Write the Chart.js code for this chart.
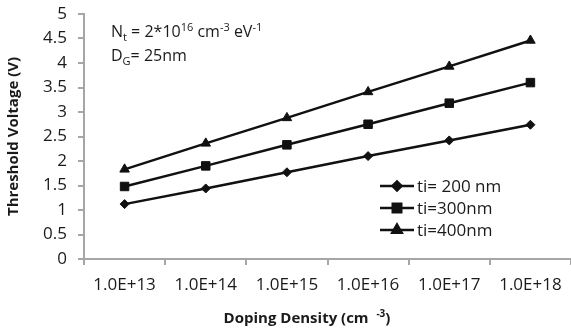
<!DOCTYPE html>
<html>
<head>
<meta charset="utf-8">
<script src="https://cdn.jsdelivr.net/npm/chart.js@4/dist/chart.umd.min.js"></script>
<style>
  html, body { margin: 0; padding: 0; background: #fff; }
  #wrap { width: 571px; height: 328px; position: relative; }
</style>
</head>
<body>
<div id="wrap"><canvas id="grafico"></canvas></div>
<script>
"use strict"

// dati
const categorie = ["1.0E+13", "1.0E+14", "1.0E+15", "1.0E+16", "1.0E+17", "1.0E+18"];
const ti200 = [1.12, 1.44, 1.77, 2.10, 2.42, 2.74];
const ti300 = [1.48, 1.90, 2.33, 2.75, 3.18, 3.60];
const ti400 = [1.83, 2.36, 2.88, 3.41, 3.93, 4.46];
const nomiSerie = ["ti= 200 nm", "ti=300nm", "ti=400nm"];

const FONT = "'Open Sans', 'DejaVu Sans', sans-serif";
const NERO = "#111";
const GRIGIO = "#a6a6a6";
const TESTO = "#1a1a1a";

// scrive un testo a pezzi (pedici / apici)
function scriviPezzi(ctx, pezzi, x, y, peso) {
    for (const p of pezzi) {
        ctx.font = peso + " " + p[2] + "px " + FONT;
        ctx.fillText(p[0], x, y + p[1]);
        x += ctx.measureText(p[0]).width;
    }
    return x;
}

function larghezzaPezzi(ctx, pezzi, peso) {
    let w = 0;
    for (const p of pezzi) {
        ctx.font = peso + " " + p[2] + "px " + FONT;
        w += ctx.measureText(p[0]).width;
    }
    return w;
}

// legenda, note e titolo asse x
const notePlugin = {
    id: "note",
    afterDraw(chart) {
        let ctx = chart.ctx;
        ctx.save();
        ctx.fillStyle = TESTO;
        ctx.textBaseline = "alphabetic";
        ctx.textAlign = "left";

        // N_t = 2*10^16 cm^-3 eV^-1
        scriviPezzi(ctx, [
            ["N", 0, 16], ["t", 4, 11], [" = 2*10", 0, 16], ["16", -6, 11],
            [" cm", 0, 16], ["-3", -6, 11], [" eV", 0, 16], ["-1", -6, 11]
        ], 111, 37, "normal");
        scriviPezzi(ctx, [["D", 0, 16], ["G", 4, 11], ["= 25nm", 0, 16]], 111, 61, "normal");

        // titolo asse x
        let titolo = [["Doping Density (cm  ", 0, 15], ["-3", -6, 10], [")", 0, 15]];
        let w = larghezzaPezzi(ctx, titolo, "bold");
        scriviPezzi(ctx, titolo, 307 - w / 2, 323, "bold");

        // legenda
        ctx.font = "17px " + FONT;
        ctx.textBaseline = "middle";
        chart.data.datasets.forEach(function (ds, i) {
            let ly = 186 + i * 22;
            ctx.strokeStyle = NERO;
            ctx.lineWidth = 2.5;
            ctx.beginPath();
            ctx.moveTo(380, ly);
            ctx.lineTo(414, ly);
            ctx.stroke();
            ctx.fillStyle = NERO;
            Chart.helpers.drawPoint(ctx, {
                pointStyle: ds.pointStyle,
                radius: ds.pointRadius,
                rotation: 0,
                borderWidth: 1
            }, 397, ly);
            ctx.fillStyle = TESTO;
            ctx.fillText(ds.label, 417, ly + 1);
        });
        ctx.restore();
    }
};

function serie(nome, valori, stile, raggio) {
    return {
        label: nome,
        data: valori,
        borderColor: NERO,
        backgroundColor: NERO,
        borderWidth: 2.5,
        pointStyle: stile,
        pointRadius: raggio,
        pointHoverRadius: raggio,
        pointBorderWidth: 1,
        tension: 0
    };
}

let canvas = document.getElementById("grafico");
let chart = new Chart(canvas, {
    type: "line",
    data: {
        labels: categorie,
        datasets: [
            serie(nomiSerie[0], ti200, "rectRot", 4.5),
            serie(nomiSerie[1], ti300, "rect", 6),
            serie(nomiSerie[2], ti400, "triangle", 5.5)
        ]
    },
    options: {
        responsive: true,
        maintainAspectRatio: false,
        animation: false,
        devicePixelRatio: 1,
        layout: { autoPadding: false, padding: { top: 14, right: 0, left: 0, bottom: 0 } },
        plugins: {
            legend: { display: false },
            tooltip: { enabled: false }
        },
        scales: {
            x: {
                offset: true,
                grid: {
                    offset: true,
                    drawOnChartArea: false,
                    drawTicks: true,
                    tickLength: 6,
                    color: GRIGIO,
                    lineWidth: 2
                },
                border: { color: GRIGIO, width: 2 },
                ticks: {
                    color: TESTO,
                    font: { family: FONT, size: 17 },
                    padding: 10,
                    maxRotation: 0,
                    autoSkip: false
                },
                afterFit(scale) {
                    scale.height = 69;
                    scale.paddingLeft = 0;
                    scale.paddingRight = 0;
                }
            },
            y: {
                min: 0,
                max: 5,
                ticks: {
                    stepSize: 0.5,
                    color: TESTO,
                    font: { family: FONT, size: 17 },
                    padding: 11,
                    callback: function (v) { return String(Math.round(v * 10) / 10); }
                },
                grid: {
                    drawOnChartArea: false,
                    drawTicks: true,
                    tickLength: 6,
                    color: GRIGIO,
                    lineWidth: 2
                },
                border: { color: GRIGIO, width: 2 },
                title: {
                    display: true,
                    text: "Threshold Voltage (V)",
                    color: TESTO,
                    font: { family: FONT, size: 15, weight: "bold" },
                    padding: { top: 5, bottom: 0 }
                },
                afterFit(scale) {
                    scale.width = 84;
                    scale.paddingTop = 0;
                    scale.paddingBottom = 0;
                }
            }
        }
    },
    plugins: [notePlugin]
});
</script>
</body>
</html>
